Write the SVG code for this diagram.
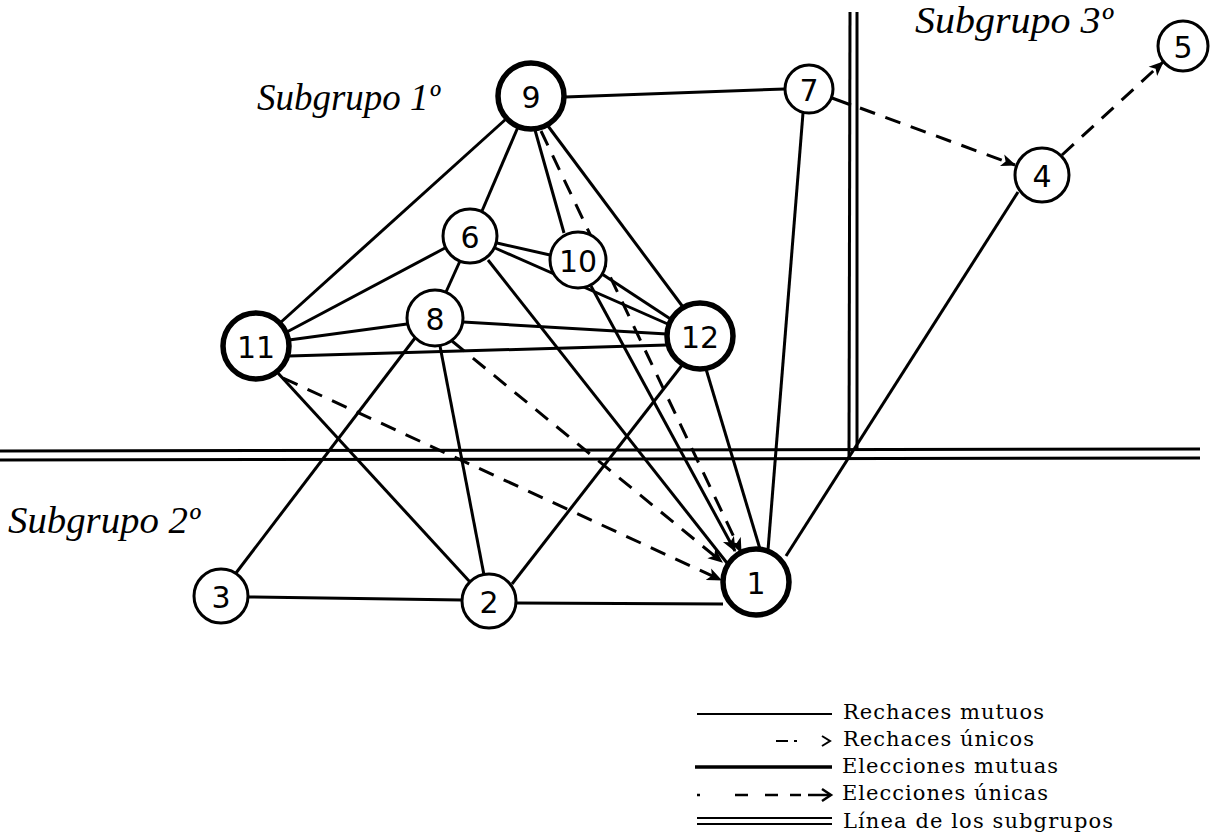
<svg xmlns="http://www.w3.org/2000/svg" width="1221" height="840" viewBox="0 0 1221 840">
<style>
.bg{fill:#fff}
.n{fill:#fff;stroke:#000;stroke-width:3}
.nt{fill:#fff;stroke:#000;stroke-width:5.5}
.lbl{font-family:"DejaVu Sans","Liberation Sans",sans-serif;font-size:30px;text-anchor:middle;dominant-baseline:central;fill:#000}
.sg{font-family:"Liberation Serif","DejaVu Serif",serif;font-style:italic;font-size:37px;fill:#000}
.lg{font-family:"DejaVu Serif","Liberation Serif",serif;font-size:21px;fill:#000}
.m{stroke:#000;stroke-width:3;fill:none}
.d{stroke:#000;stroke-width:3;fill:none;stroke-dasharray:16 11}
.sub{stroke:#000;stroke-width:3;fill:none}
</style>
<defs>
<marker id="ah" viewBox="0 0 12 10" refX="11" refY="5" markerWidth="5" markerHeight="5" markerUnits="strokeWidth" orient="auto">
<path d="M0,0 L12,5 L0,10 L3,5 z" fill="#000"/>
</marker>
</defs>
<rect class="bg" x="0" y="0" width="1221" height="840"/>
<g id="subgroup-lines">
<line class="sub" x1="0" y1="451" x2="1200" y2="449"/>
<line class="sub" x1="0" y1="460" x2="1200" y2="458"/>
<line class="sub" x1="850" y1="12" x2="849" y2="458"/>
<line class="sub" x1="857" y1="12" x2="857" y2="451"/>
</g>
<g id="connectors">
<line class="m" x1="565" y1="97" x2="785" y2="89"/>
<line class="m" x1="506" y1="119" x2="280" y2="323"/>
<line class="m" x1="518" y1="127" x2="482" y2="211"/>
<line class="m" x1="535" y1="130" x2="564" y2="233"/>
<line class="m" x1="548" y1="126" x2="683" y2="307"/>
<line class="d" x1="541" y1="131" x2="741" y2="552" marker-end="url(#ah)"/>
<line class="m" x1="591" y1="286" x2="735" y2="551" marker-end="url(#ah)"/>
<line class="m" x1="497" y1="243" x2="550" y2="255"/>
<line class="m" x1="460" y1="261" x2="446" y2="292"/>
<line class="m" x1="445" y1="248" x2="285" y2="333"/>
<line class="m" x1="495" y1="248" x2="670" y2="325"/>
<line class="m" x1="488" y1="260" x2="727" y2="563"/>
<line class="m" x1="602" y1="274" x2="672" y2="320"/>
<line class="m" x1="463" y1="322" x2="667" y2="334"/>
<line class="m" x1="407" y1="324" x2="289" y2="340"/>
<line class="m" x1="289" y1="356" x2="667" y2="345"/>
<line class="m" x1="415" y1="338" x2="236" y2="573"/>
<line class="m" x1="440" y1="346" x2="484" y2="575"/>
<line class="d" x1="452" y1="341" x2="722" y2="562" marker-end="url(#ah)"/>
<line class="d" x1="283" y1="378" x2="721" y2="580" marker-end="url(#ah)"/>
<line class="m" x1="277" y1="372" x2="470" y2="582"/>
<line class="m" x1="683" y1="364" x2="512" y2="584"/>
<line class="m" x1="706" y1="369" x2="760" y2="549"/>
<line class="m" x1="803" y1="113" x2="768" y2="550"/>
<line class="m" x1="786" y1="556" x2="1018" y2="192"/>
<line class="m" x1="248" y1="597" x2="462" y2="600"/>
<line class="m" x1="516" y1="603" x2="723" y2="604"/>
<line class="m" x1="832" y1="98" x2="851" y2="105"/>
<line class="d" x1="860" y1="108" x2="1015" y2="165" marker-end="url(#ah)"/>
<line class="d" x1="1062" y1="155" x2="1163" y2="62" marker-end="url(#ah)"/>
</g>
<g id="node-9"><circle class="nt" cx="531" cy="96" r="33"/><text class="lbl" x="531" y="97">9</text></g>
<g id="node-7"><circle class="n" cx="809" cy="89" r="24"/><text class="lbl" x="809" y="90">7</text></g>
<g id="node-5"><circle class="n" cx="1183" cy="46" r="25"/><text class="lbl" x="1183" y="47">5</text></g>
<g id="node-4"><circle class="n" cx="1042" cy="175" r="27"/><text class="lbl" x="1042" y="176">4</text></g>
<g id="node-6"><circle class="n" cx="470" cy="236" r="27"/><text class="lbl" x="470" y="237">6</text></g>
<g id="node-10"><circle class="n" cx="578" cy="260" r="28"/><text class="lbl" x="578" y="261">10</text></g>
<g id="node-8"><circle class="n" cx="435" cy="318" r="28"/><text class="lbl" x="435" y="319">8</text></g>
<g id="node-11"><circle class="nt" cx="256" cy="346" r="33"/><text class="lbl" x="256" y="347">11</text></g>
<g id="node-12"><circle class="nt" cx="700" cy="336" r="33"/><text class="lbl" x="700" y="337">12</text></g>
<g id="node-3"><circle class="n" cx="221" cy="596" r="27"/><text class="lbl" x="221" y="597">3</text></g>
<g id="node-2"><circle class="n" cx="489" cy="601" r="27"/><text class="lbl" x="489" y="602">2</text></g>
<g id="node-1"><circle class="nt" cx="756" cy="582" r="33"/><text class="lbl" x="756" y="583">1</text></g>
<g id="labels">
<text class="sg" x="257" y="110" textLength="183" lengthAdjust="spacingAndGlyphs">Subgrupo 1º</text>
<text class="sg" x="915" y="33" textLength="198" lengthAdjust="spacingAndGlyphs">Subgrupo 3º</text>
<text class="sg" x="8" y="533" textLength="192" lengthAdjust="spacingAndGlyphs">Subgrupo 2º</text>
</g>
<g id="legend">
<line x1="697" y1="714" x2="832" y2="714" stroke="#000" stroke-width="2"/>
<path d="M776,741 H788 M794,741 H797" stroke="#000" stroke-width="2" fill="none"/>
<path d="M822,736 L830,741 L822,746" stroke="#000" stroke-width="2" fill="none"/>
<line x1="695" y1="767" x2="832" y2="767" stroke="#000" stroke-width="3.5"/>
<path d="M697,795 H700 M735,795 H748 M765,795 H778 M790,795 H801 M808,795 H830" stroke="#000" stroke-width="2.5" fill="none"/>
<path d="M822,789 L831,795 L822,801" stroke="#000" stroke-width="2.5" fill="none"/>
<line x1="697" y1="818" x2="832" y2="818" stroke="#000" stroke-width="2"/>
<line x1="697" y1="824" x2="832" y2="824" stroke="#000" stroke-width="2"/>
<text class="lg" x="843" y="719" textLength="201" lengthAdjust="spacing">Rechaces mutuos</text>
<text class="lg" x="843" y="746" textLength="191" lengthAdjust="spacing">Rechaces únicos</text>
<text class="lg" x="842" y="773" textLength="216" lengthAdjust="spacing">Elecciones mutuas</text>
<text class="lg" x="842" y="800" textLength="206" lengthAdjust="spacing">Elecciones únicas</text>
<text class="lg" x="843" y="828" textLength="270" lengthAdjust="spacing">Línea de los subgrupos</text>
</g>
</svg>
